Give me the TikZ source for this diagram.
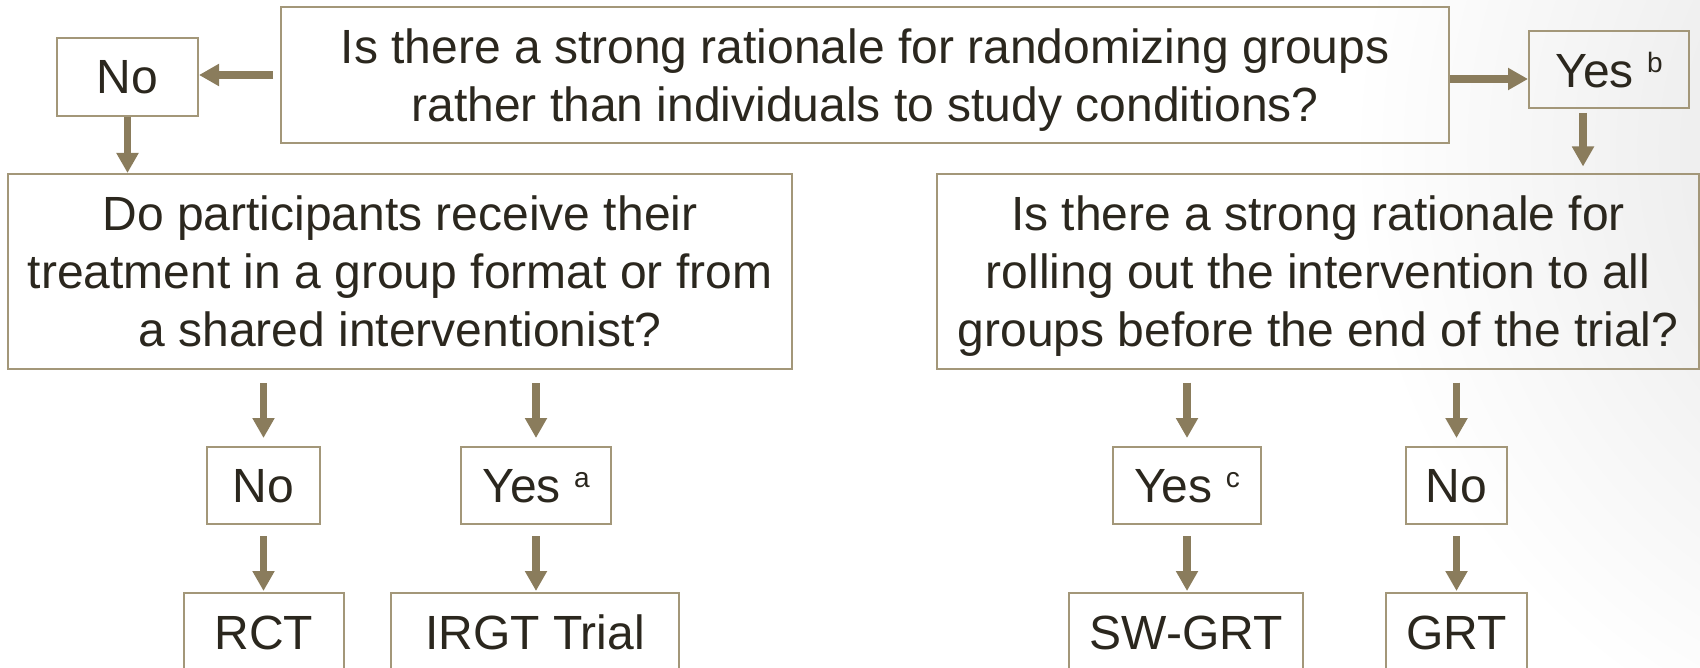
\documentclass[tikz,border=0pt]{standalone}
\usepackage{fontspec}
\setmainfont{Liberation Sans}
\usetikzlibrary{arrows.meta}
\definecolor{boxc}{HTML}{A39779}
\definecolor{arrc}{HTML}{8A7C5C}
\definecolor{txtc}{HTML}{2B271E}
\newcommand\supmark[1]{\raisebox{7.5pt}{\fontsize{14}{14}\selectfont #1}}
\begin{document}
\begin{tikzpicture}[x=0.5pt,y=-0.5pt,
  box/.style={draw=boxc, line width=1pt, text=txtc, align=center, inner sep=0pt,
    text depth=0pt, font=\fontsize{24}{29}\selectfont},
  arr/.style={arrc, line width=3.6pt, -{Triangle[length=10pt,width=10.5pt]}}]
\useasboundingbox (0,0) rectangle (1700,668);
\begin{scope}
  \clip (0,0) rectangle (1700,668);
  \shade[inner color=black!12, outer color=white] (2000,150) circle (650);
\end{scope}
% nodes
\node[box, minimum width=584pt, minimum height=68pt] (top) at (865,75)
  {Is there a strong rationale for randomizing groups\\rather than individuals to study conditions?};
\node[box, minimum width=70.5pt, minimum height=39pt] (no1) at (127.5,77) {No};
\node[box, minimum width=80pt, minimum height=38.5pt] (yesb) at (1609,69.5) {Yes \supmark{b}};
\node[box, minimum width=392pt, minimum height=97.5pt] (leftq) at (400,271.5)
  {Do participants receive their\\treatment in a group format or from\\a shared interventionist?};
\node[box, minimum width=381pt, minimum height=97pt] (rightq) at (1318,271.5)
  {Is there a strong rationale for\\rolling out the intervention to all\\groups before the end of the trial?};
\node[box, minimum width=56.5pt, minimum height=38.5pt] (noL) at (263.5,485.5) {No};
\node[box, minimum width=75pt, minimum height=38.5pt] (yesa) at (536,485.5) {Yes \supmark{a}};
\node[box, minimum width=74pt, minimum height=38.5pt] (yesc) at (1187,485.5) {Yes \supmark{c}};
\node[box, minimum width=50.5pt, minimum height=38.5pt] (noR) at (1456.5,485.5) {No};
\node[box, minimum width=80pt, minimum height=39.5pt] (rct) at (264,632.5) {RCT};
\node[box, minimum width=144pt, minimum height=39.5pt] (irgt) at (535,632.5) {IRGT Trial};
\node[box, minimum width=117pt, minimum height=39.5pt] (swgrt) at (1186,632.5) {SW-GRT};
\node[box, minimum width=70.5pt, minimum height=39.5pt] (grt) at (1456.5,632.5) {GRT};
% arrows
\draw[arr, shorten <=3.5pt] (top.west) -- (top.west -| no1.east);
\draw[arr] ([yshift=-2pt]top.east) -- ([yshift=-2pt]top.east -| yesb.west);
\draw[arr] (no1.south) -- (no1.south |- leftq.north);
\draw[arr, shorten <=2pt, shorten >=3.5pt] ([xshift=-13pt]yesb.south) -- ([xshift=-13pt]yesb.south |- rightq.north);
\draw[arr, shorten <=6.5pt, shorten >=4pt] (leftq.south -| noL.north) -- (noL.north);
\draw[arr, shorten <=6.5pt, shorten >=4pt] (leftq.south -| yesa.north) -- (yesa.north);
\draw[arr, shorten <=6.5pt, shorten >=4pt] (rightq.south -| yesc.north) -- (yesc.north);
\draw[arr, shorten <=6.5pt, shorten >=4pt] (rightq.south -| noR.north) -- (noR.north);
\draw[arr, shorten <=5.5pt, shorten >=0.5pt] (noL.south) -- (noL.south |- rct.north);
\draw[arr, shorten <=5.5pt, shorten >=0.5pt] (yesa.south) -- (yesa.south |- irgt.north);
\draw[arr, shorten <=5.5pt, shorten >=0.5pt] (yesc.south) -- (yesc.south |- swgrt.north);
\draw[arr, shorten <=5.5pt, shorten >=0.5pt] (noR.south) -- (noR.south |- grt.north);
\end{tikzpicture}
\end{document}
